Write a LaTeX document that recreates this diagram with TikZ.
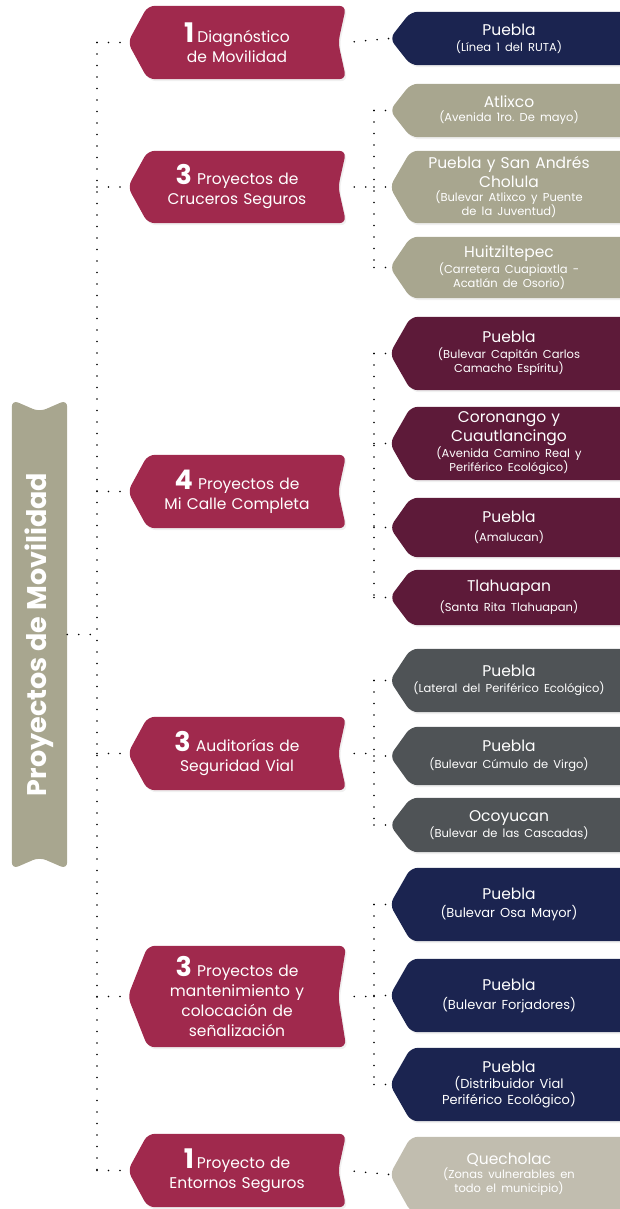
\documentclass[tikz,border=0pt]{standalone}
\usepackage{fontspec}
\usepackage{graphicx}
\setmainfont{Poppins}
\newfontfamily\subfont{Poppins}[WordSpace=0.8]
\usetikzlibrary{calc,backgrounds,shadows}
\frenchspacing

\definecolor{crimson}{HTML}{A0294D}
\definecolor{navy}{HTML}{1B2450}
\definecolor{khaki}{HTML}{A8A68F}
\definecolor{maroon}{HTML}{5D1A39}
\definecolor{slate}{HTML}{4F5356}
\definecolor{sand}{HTML}{C1BDAF}

\newcommand{\bignum}[1]{{\fontsize{27}{27}\selectfont\bfseries #1}}
% subtitles: optional extra gap above
\newcommand{\subline}[2][0pt]{\par\vspace{#1}{\subfont\fontsize{11.5}{14}\selectfont #2\par}}
\newcommand{\wideline}[2][0pt]{\par\vspace{#1}{\subfont\fontsize{13}{16}\selectfont #2\par}}

\tikzset{
    lvone/.style={minimum width=218pt, minimum height=#1, inner sep=0pt, text width=200pt,
        align=center, text=white, font=\fontsize{15.5}{20}\selectfont},
    lvtwo/.style={minimum width=238pt, minimum height=#1, inner sep=0pt, text width=214pt,
        align=center, text=white, font=\fontsize{15.5}{19}\selectfont},
    dots/.style={line width=1.8pt, line cap=round, dash pattern=on 0pt off 11.5pt, black},
    tagshadow/.style={drop shadow={shadow xshift=1.5pt, shadow yshift=-2pt, opacity=.12}},
}

\begin{document}
\begin{tikzpicture}[x=1pt, y=-1pt]
    \useasboundingbox (0,0) rectangle (620,1209);

    % Root banner
    \node[minimum width=55pt, minimum height=469pt, inner sep=0pt, text=white] (root) at (39.5,634.5)
        {\rotatebox{90}{\fontsize{27}{27}\selectfont\bfseries Proyectos de Movilidad}};

    % First level
    \node[lvone=73pt] (d1) at (237,42.5) {\bignum{1}\hspace{3pt}Diagnóstico\\de Movilidad};
    \node[lvone=72pt] (c3) at (237,187) {\bignum{3} Proyectos de\\Cruceros Seguros};
    \node[lvone=73pt] (m4) at (237,491.5) {\bignum{4} Proyectos de\\Mi Calle Completa};
    \node[lvone=73pt] (a3) at (237,753.5) {\bignum{3} Auditorías de\\Seguridad Vial};
    \node[lvone=101pt] (s3) at (237,996.5) {\bignum{3} Proyectos de\\mantenimiento y\\colocación de\\señalización};
    \node[lvone=73pt] (e1) at (237,1170.5) {\bignum{1}\hspace{3pt}Proyecto de\\Entornos Seguros};

    % Second level
    \node[lvtwo=53pt] (p1) at (509,38.5) {Puebla\subline[2pt]{(Línea 1 del RUTA)}};

    \node[lvtwo=53pt] (at) at (509,110.5) {Atlixco\subline{(Avenida 1ro. De mayo)}};
    \node[lvtwo=72pt] (ps) at (509,187) {Puebla y San Andrés\\Cholula\subline{(Bulevar Atlixco y Puente\\de la Juventud)}};
    \node[lvtwo=61pt] (hu) at (509,267.5) {Huitziltepec\subline{(Carretera Cuapiaxtla -\\Acatlán de Osorio)}};

    \node[lvtwo=73pt] (pc) at (509,353.5) {Puebla\subline[2pt]{(Bulevar Capitán Carlos\\Camacho Espíritu)}};
    \node[lvtwo=73pt] (co) at (509,443.5) {Coronango y\\Cuautlancingo\subline{(Avenida Camino Real y\\Periférico Ecológico)}};
    \node[lvtwo=59pt] (pa) at (509,527.5) {Puebla\subline[5pt]{(Amalucan)}};
    \node[lvtwo=55pt] (tl) at (509,597.5) {Tlahuapan\subline[4pt]{(Santa Rita Tlahuapan)}};

    \node[lvtwo=63pt] (pl) at (509,680.5) {Puebla\subline[2pt]{(Lateral del Periférico Ecológico)}};
    \node[lvtwo=58pt] (pv) at (509,756) {Puebla\subline[3pt]{(Bulevar Cúmulo de Virgo)}};
    \node[lvtwo=54pt] (oc) at (509,825) {Ocoyucan\subline{(Bulevar de las Cascadas)}};

    \node[lvtwo=73pt] (po) at (509,904.5) {Puebla\wideline[2pt]{(Bulevar Osa Mayor)}};
    \node[lvtwo=73pt] (pf) at (509,995.5) {Puebla\wideline[3pt]{(Bulevar Forjadores)}};
    \node[lvtwo=73pt] (pd) at (509,1084.5) {Puebla\wideline{(Distribuidor Vial\\Periférico Ecológico)}};

    \node[lvtwo=75pt] (qu) at (509,1174.5) {Quecholac\subline{(Zonas vulnerables en\\todo el municipio)}};

    % Shapes behind the texts
    \begin{scope}[on background layer]
        \fill[khaki, rounded corners=7pt] (root.north west) -- ($(root.north)+(0,12)$) -- (root.north east)
            -- (root.south east) -- ($(root.south)+(0,-12)$) -- (root.south west) -- cycle;
        \foreach \n in {d1,c3,m4,a3,s3,e1}
            \fill[crimson, rounded corners=7pt, tagshadow] (\n.west) -- ($(\n.north west)+(20,0)$)
                -- (\n.north east) -- ($(\n.east)+(-8,0)$) -- (\n.south east) -- ($(\n.south west)+(20,0)$) -- cycle;
        \foreach \n/\c in {p1/navy, at/khaki, ps/khaki, hu/khaki, pc/maroon, co/maroon, pa/maroon, tl/maroon,
                pl/slate, pv/slate, oc/slate, po/navy, pf/navy, pd/navy, qu/sand}
            \fill[\c, rounded corners=7pt, tagshadow] (\n.west) -- ($(\n.north west)+(21,0)$)
                -- (\n.north east) -- ($(\n.east)+(-6,0)$) -- (\n.south east) -- ($(\n.south west)+(21,0)$) -- cycle;
    \end{scope}

    % Connectors
    \coordinate (spine) at (97,0);
    \coordinate (bus) at (374,0);
    \draw[dots] (root.east) -- (spine |- root.east);
    \draw[dots] (spine |- d1.west) -- (spine |- e1.west);
    \foreach \n in {d1,c3,m4,a3,s3,e1}
        \draw[dots] (spine |- \n.west) -- (\n.west);

    \draw[dots, shorten <=8pt] (d1.east) -- (p1.west);
    \draw[dots, shorten <=8pt] (e1.east) -- (qu.west);
    \draw[dots, shorten <=8pt] (c3.east) -- (bus |- c3.east);
    \draw[dots, shorten <=8pt] (a3.east) -- (bus |- a3.east);
    \draw[dots, shorten <=8pt] (s3.east) -- (bus |- s3.east);

    \draw[dots] (bus |- at.west) -- (bus |- hu.west);
    \draw[dots] (bus |- pc.west) -- (bus |- tl.west);
    \draw[dots] (bus |- pl.west) -- (bus |- oc.west);
    \draw[dots] (bus |- po.west) -- (bus |- pd.west);
    \foreach \n in {at,ps,hu,pc,co,pa,tl,pl,pv,oc,po,pf,pd}
        \draw[dots] (bus |- \n.west) -- (\n.west);
\end{tikzpicture}
\end{document}
